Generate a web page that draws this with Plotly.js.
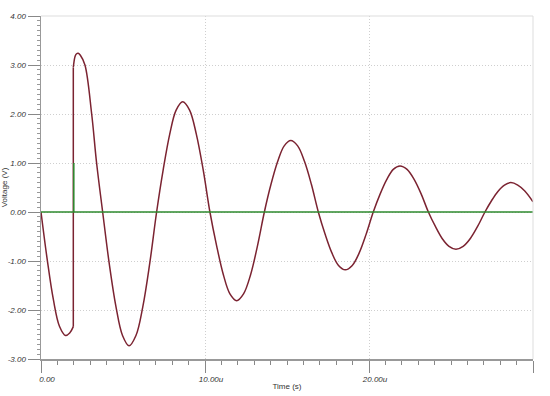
<!DOCTYPE html>
<html>
<head>
<meta charset="utf-8">
<script src="https://cdn.plot.ly/plotly-3.0.1.min.js"></script>
<style>html,body{margin:0;padding:0;background:#fff;}#chart{width:550px;height:396px;}</style>
</head>
<body>
<div id="chart"></div>
<script>
// Time in microseconds
const timeBefore = [0, 0.375, 0.75, 1.125, 1.5, 1.75, 1.97];
const voltBefore = [0, -0.96, -1.78, -2.33, -2.52, -2.47, -2.34];

const timeAfter = [1.97, 2.08, 2.17, 2.27, 2.4, 2.68, 3.09, 3.39, 3.76,
  4.16, 4.57, 4.97, 5.37, 5.79, 6.21, 6.63, 7.05,
  7.45, 7.85, 8.24, 8.64, 9.06, 9.47, 9.89, 10.3,
  10.71, 11.12, 11.52, 11.93, 12.35, 12.78, 13.2, 13.62,
  14.02, 14.43, 14.83, 15.23, 15.65, 16.07, 16.49, 16.91,
  17.32, 17.73, 18.14, 18.55, 18.98, 19.41, 19.83, 20.26,
  20.67, 21.08, 21.48, 21.89, 22.32, 22.76, 23.19, 23.62,
  24.04, 24.46, 24.88, 25.3, 25.74, 26.18, 26.63, 27.07,
  27.47, 27.86, 28.26, 28.65, 29.07, 29.5, 30.0];
const voltAfter = [2.95, 3.18, 3.23, 3.24, 3.2, 3.0, 2.0, 1.0, 0,
  -1.05, -1.93, -2.52, -2.73, -2.52, -1.93, -1.05, 0,
  0.86, 1.59, 2.08, 2.25, 2.08, 1.59, 0.86, 0,
  -0.69, -1.28, -1.67, -1.81, -1.67, -1.28, -0.69, 0,
  0.56, 1.03, 1.35, 1.46, 1.35, 1.03, 0.56, 0,
  -0.45, -0.83, -1.09, -1.18, -1.09, -0.83, -0.45, 0,
  0.36, 0.66, 0.87, 0.94, 0.87, 0.66, 0.36, 0,
  -0.29, -0.54, -0.70, -0.76, -0.70, -0.54, -0.29, 0,
  0.23, 0.42, 0.55, 0.60, 0.55, 0.43, 0.21];

const timeSource = [0, 2.0, 2.0, 2.0, 30.0];
const voltSource = [0, 0, 1.0, 0, 0];

const xTickVals = [0, 10, 20, 30];
const xTickText = ['0.00', '10.00u', '20.00u', '30.00u'];
const yTickVals = [-3, -2, -1, 0, 1, 2, 3, 4];
const yTickText = ['-3.00', '-2.00', '-1.00', '0.00', '1.00', '2.00', '3.00', '4.00'];

const red = '#7b2331';
const green = '#2f8a2f';

const traces = [
  {x: timeBefore, y: voltBefore, mode: 'lines', line: {color: red, width: 1.5, shape: 'spline'}},
  {x: [timeBefore[timeBefore.length-1], timeAfter[0]], y: [voltBefore[voltBefore.length-1], voltAfter[0]],
   mode: 'lines', line: {color: red, width: 1.5}},
  {x: timeAfter, y: voltAfter, mode: 'lines', line: {color: red, width: 1.5, shape: 'spline', smoothing: 1}},
  {x: timeSource, y: voltSource, mode: 'lines', line: {color: green, width: 1.5}}
];

const tickFont = {family: 'Liberation Sans, Arial, sans-serif', size: 8, color: '#333', style: 'italic'};
const titleFont = {family: 'Liberation Sans, Arial, sans-serif', size: 8, color: '#333'};

const layout = {
  width: 550, height: 396,
  margin: {l: 41, r: 17, t: 16, b: 37},
  paper_bgcolor: '#fff', plot_bgcolor: '#fff',
  showlegend: false,
  xaxis: {
    range: [0, 30], tickvals: xTickVals, ticktext: xTickText,
    ticks: 'outside', ticklen: 12, tickcolor: '#888', tickwidth: 1,
    showline: true, linecolor: '#999', linewidth: 1.5,
    showgrid: true, gridcolor: '#cfcfcf', griddash: '1px,2px', gridwidth: 1,
    zeroline: false, tickfont: tickFont, ticklabelshift: 6,
    minor: {dtick: 1, ticks: 'outside', ticklen: 4, tickcolor: '#888', showgrid: false},
    title: {text: 'Time (s)', font: titleFont, standoff: 0}
  },
  yaxis: {
    range: [-3, 4], tickvals: yTickVals, ticktext: yTickText,
    ticks: 'outside', ticklen: 12, tickcolor: '#888', tickwidth: 1,
    showline: true, linecolor: '#999', linewidth: 1.5,
    showgrid: true, gridcolor: '#cfcfcf', griddash: '1px,2px', gridwidth: 1,
    zeroline: false, tickfont: tickFont,
    minor: {dtick: 0.1, ticks: 'outside', ticklen: 3, tickcolor: '#999', showgrid: false},
    title: {text: 'Voltage (V)', font: titleFont, standoff: 3}
  },
  shapes: [
    {type: 'line', xref: 'paper', yref: 'paper', x0: 0, x1: 1, y0: 1, y1: 1, line: {color: '#ddd', width: 1}},
    {type: 'line', xref: 'paper', yref: 'paper', x0: 1, x1: 1, y0: 0, y1: 1, line: {color: '#ddd', width: 1}}
  ]
};

Plotly.newPlot('chart', traces, layout, {displayModeBar: false, staticPlot: true});
</script>
</body>
</html>
